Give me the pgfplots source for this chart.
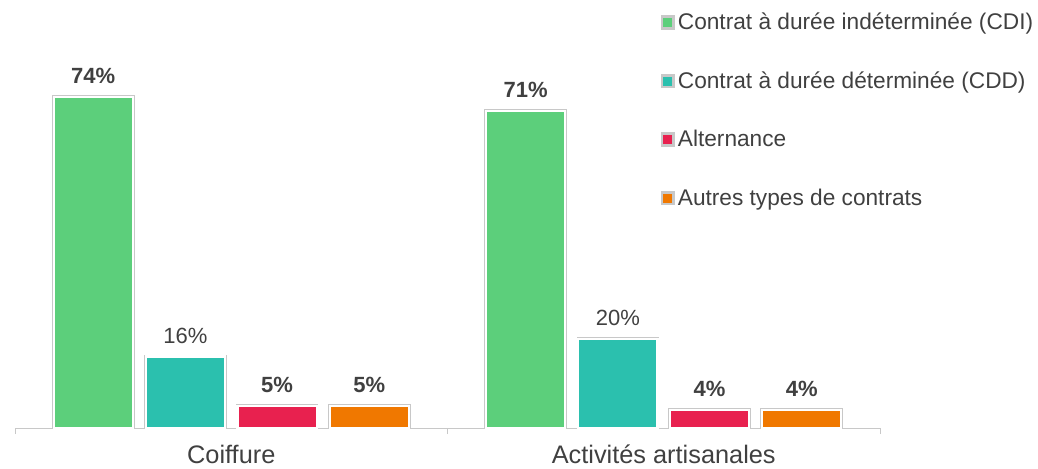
\documentclass[border=0pt]{standalone}
\usepackage{fontspec}
\setmainfont{Liberation Sans}
\usepackage{pgfplots}
\pgfplotsset{compat=1.18}
\definecolor{cdi}{HTML}{5CCF7B}
\definecolor{cdd}{HTML}{2BC0AE}
\definecolor{alt}{HTML}{E8214F}
\definecolor{aut}{HTML}{F07800}
\definecolor{txt}{HTML}{404040}
\definecolor{axl}{HTML}{C8C8C8}
\begin{document}
\begin{tikzpicture}
\useasboundingbox (0,0) rectangle (778.5pt,351pt);
\begin{axis}[
    at={(11.25pt,30pt)}, anchor=south west,
    scale only axis, width=648.75pt, height=318.5pt,
    xmin=-0.5, xmax=1.5, ymin=0, ymax=95,
    axis y line=none, axis x line=bottom,
    x axis line style={draw=axl,-},
    xtick={0,1}, xticklabels={Coiffure,Activités artisanales},
    major tick length=0pt,
    extra x ticks={-0.5,0.5,1.5}, extra x tick labels={},
    extra x tick style={major tick length=4.5pt, tick align=outside, tick style={draw=axl}},
    xticklabel style={font=\fontsize{19}{22}\selectfont, text=txt, yshift=-9pt},
    ybar, bar width=59.4pt,
    /pgf/number format/assume math mode=true,
    nodes near coords={\pgfmathprintnumber{\pgfplotspointmeta}\%},
    every node near coord/.append style={font=\fontsize{16.5}{19}\selectfont\bfseries, text=txt, anchor=south, inner sep=0pt, yshift=9pt},
    every axis plot/.append style={preaction={draw=axl,line width=2.6pt}, draw=white, line width=1.6pt},
    legend style={at={(0.746,0.984)}, anchor=north west, draw=none, fill=none,
        font=\fontsize{17}{20}\selectfont, text=txt, row sep=26pt, inner sep=0pt,
        cells={anchor=west}},
]
\addplot[fill=cdi, bar shift=-103.5pt, forget plot] coordinates {(0,74) (1,71)};
\addplot[fill=cdd, bar shift=-34.4pt, forget plot, every node near coord/.append style={font=\fontsize{16.5}{19}\selectfont\mdseries}] coordinates {(0,16) (1,20)};
\addplot[fill=alt, bar shift=34.4pt, forget plot] coordinates {(0,5) (1,4)};
\addplot[fill=aut, bar shift=103.5pt, forget plot] coordinates {(0,5) (1,4)};
\addlegendimage{legend image code/.code={\draw[draw=axl,fill=white,line width=0.5pt] (0pt,-4.2pt) rectangle (8.4pt,4.2pt); \fill[cdi] (1.6pt,-2.6pt) rectangle (6.8pt,2.6pt);}}
\addlegendentry{Contrat à durée indéterminée (CDI)}
\addlegendimage{legend image code/.code={\draw[draw=axl,fill=white,line width=0.5pt] (0pt,-4.2pt) rectangle (8.4pt,4.2pt); \fill[cdd] (1.6pt,-2.6pt) rectangle (6.8pt,2.6pt);}}
\addlegendentry{Contrat à durée déterminée (CDD)}
\addlegendimage{legend image code/.code={\draw[draw=axl,fill=white,line width=0.5pt] (0pt,-4.2pt) rectangle (8.4pt,4.2pt); \fill[alt] (1.6pt,-2.6pt) rectangle (6.8pt,2.6pt);}}
\addlegendentry{Alternance}
\addlegendimage{legend image code/.code={\draw[draw=axl,fill=white,line width=0.5pt] (0pt,-4.2pt) rectangle (8.4pt,4.2pt); \fill[aut] (1.6pt,-2.6pt) rectangle (6.8pt,2.6pt);}}
\addlegendentry{Autres types de contrats}
\end{axis}
\end{tikzpicture}
\end{document}
